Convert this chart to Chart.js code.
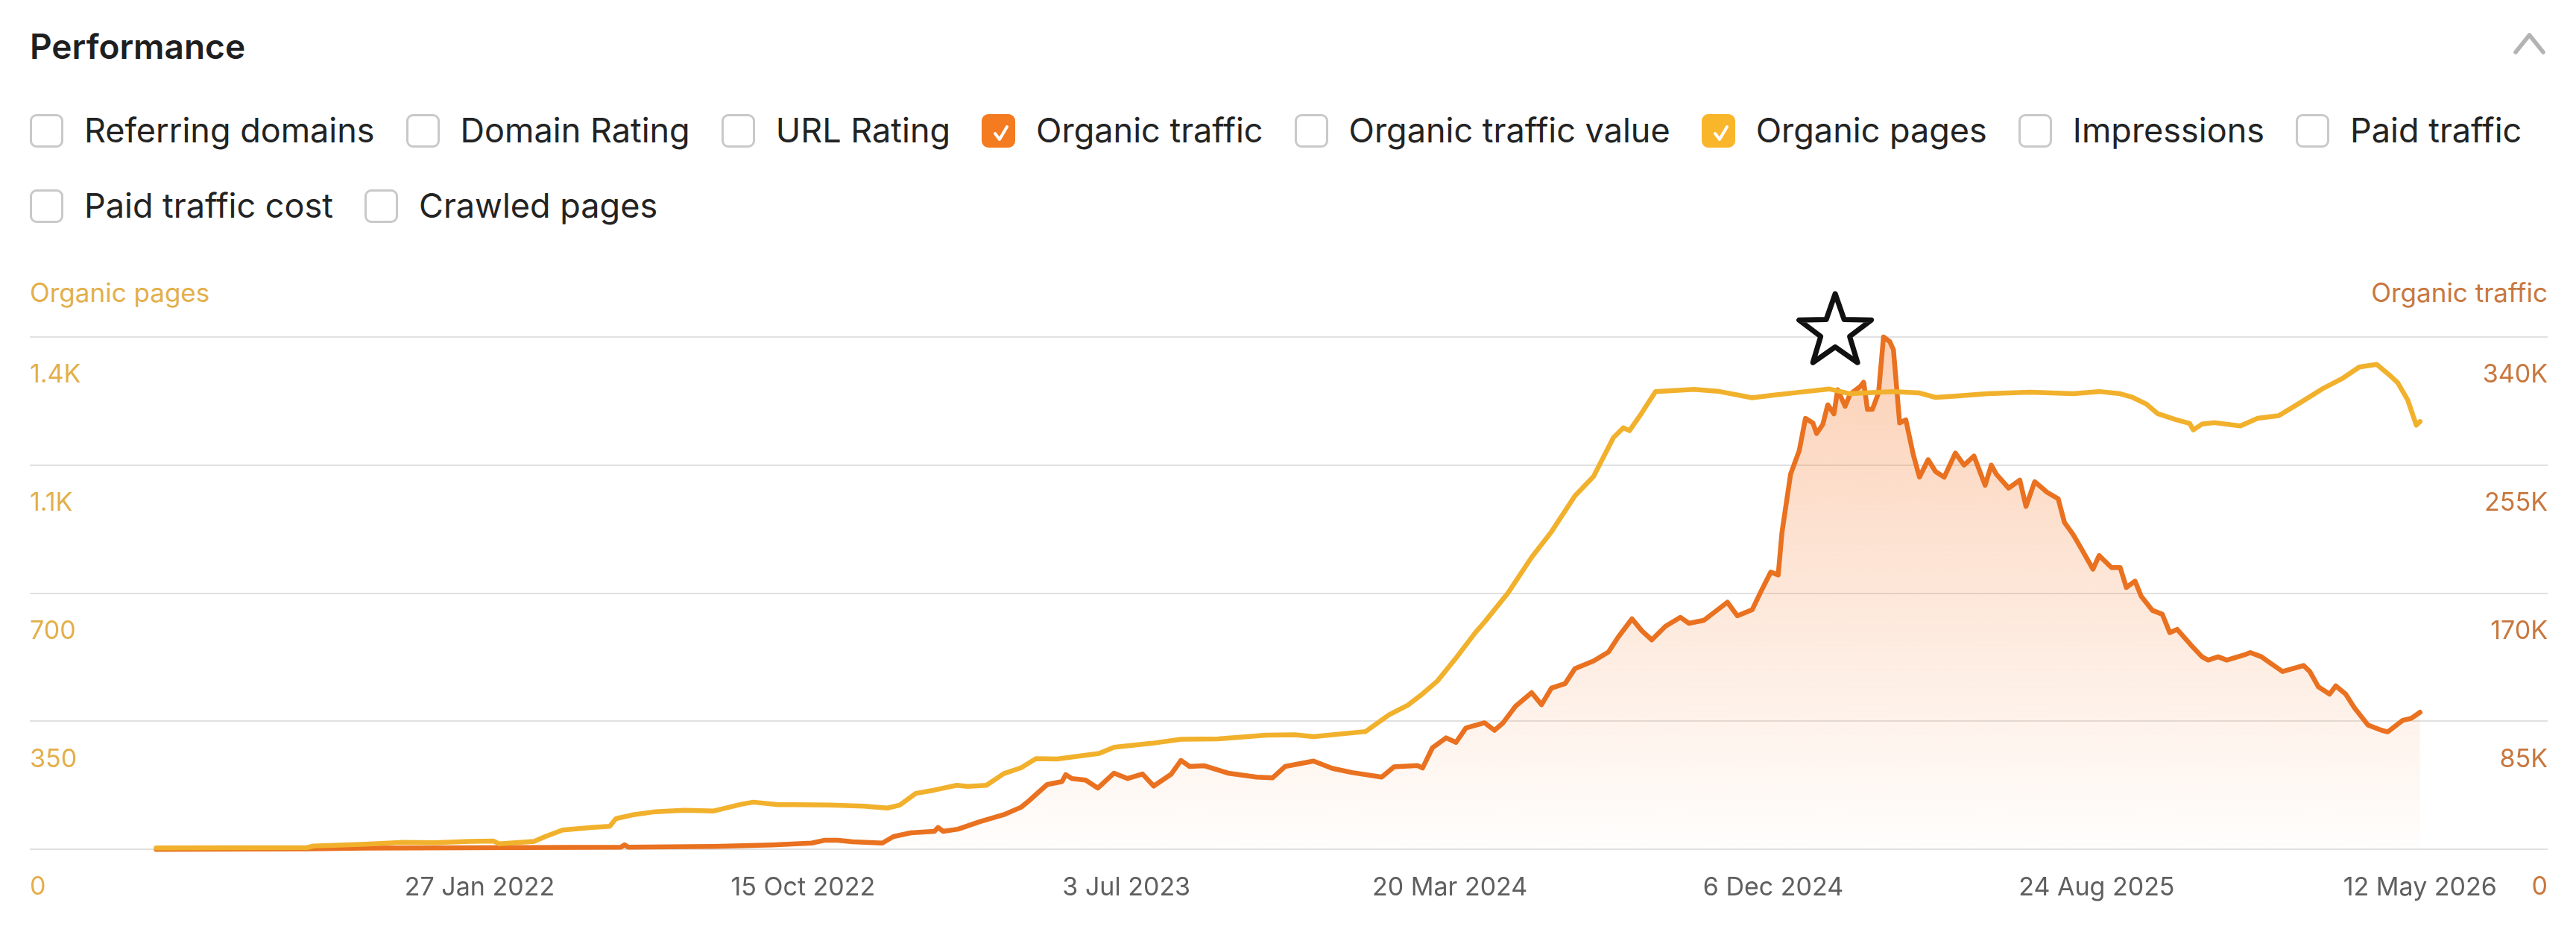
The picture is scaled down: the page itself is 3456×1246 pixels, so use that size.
<!DOCTYPE html>
<html>
<head>
<meta charset="utf-8">
<script src="https://cdn.jsdelivr.net/npm/chart.js@4/dist/chart.umd.min.js"></script>
<style>
  html, body { margin: 0; padding: 0; background: #ffffff; }
  body { width: 3456px; height: 1246px; position: relative; overflow: hidden; font-family: Inter, "Noto Sans", sans-serif; }
  .title { position: absolute; left: 40px; top: 37px; font-size: 46px; line-height: 50px; font-weight: 600; color: #1f1f1f; }
  .chev { position: absolute; left: 3370px; top: 42px; }
  .row { position: absolute; left: 40px; height: 48px; display: flex; align-items: center; }
  .item { display: flex; align-items: center; margin-right: 42px; }
  .box { width: 39px; height: 39px; border: 3px solid #c9c9c9; border-radius: 9px; margin-right: 28px; box-sizing: content-box; position: relative; }
  .box.on { border-color: transparent; }
  .box svg { position: absolute; left: 0; top: 0; }
  .lbl { font-size: 45px; color: #232323; white-space: nowrap; line-height: 48px; }
  .axt { position: absolute; top: 372px; font-size: 35px; line-height: 40px; white-space: nowrap; }
  #wrap { position: absolute; left: 0; top: 340px; width: 3456px; height: 906px; }
</style>
</head>
<body>
<div class="title">Performance</div>
<svg class="chev" width="48" height="34" viewBox="0 0 48 34"><polyline points="5,28 23.5,5 42,28" fill="none" stroke="#b3b3b3" stroke-width="5.5" stroke-linecap="round" stroke-linejoin="round"/></svg>
<div id="row1" class="row" style="top:151px"></div>
<div id="row2" class="row" style="top:252px"></div>
<div class="axt" style="left:40px;color:#e3af4a">Organic pages</div>
<div class="axt" style="right:38px;color:#c8773e">Organic traffic</div>
<div id="wrap"><canvas id="c" width="3456" height="906"></canvas></div>
<script>
// ---------- data ----------
const metricsRow1 = ['Referring domains', 'Domain Rating', 'URL Rating', 'Organic traffic', 'Organic traffic value', 'Organic pages', 'Impressions', 'Paid traffic'];
const metricsRow2 = ['Paid traffic cost', 'Crawled pages'];
const checkedMetrics = { 'Organic traffic': '#f47b20', 'Organic pages': '#f9b62a' };

const xTickDates  = ['2022-01-27', '2022-10-15', '2023-07-03', '2024-03-20', '2024-12-06', '2025-08-24', '2026-05-12'];
const xTickLabels = ['27 Jan 2022', '15 Oct 2022', '3 Jul 2023', '20 Mar 2024', '6 Dec 2024', '24 Aug 2025', '12 May 2026'];
const xRange = ['2021-01-29', '2026-08-23'];

const pagesTicks = [0, 350, 700, 1050, 1400];
const pagesTickLabels = ['0', '350', '700', '1.1K', '1.4K'];
const trafficTicks = [0, 85000, 170000, 255000, 340000];
const trafficTickLabels = ['0', '85K', '170K', '255K', '340K'];

const starDate = '2025-01-25';

const pagesDates = [
  '2021-05-11','2021-09-10','2021-09-15','2021-10-27','2021-11-24','2021-12-22','2022-01-19','2022-02-07','2022-02-12','2022-03-12',
  '2022-03-21','2022-04-04','2022-04-28','2022-05-12','2022-05-17','2022-05-30','2022-06-18','2022-07-11','2022-08-04','2022-08-27',
  '2022-09-05','2022-09-25','2022-10-08','2022-11-06','2022-12-03','2022-12-22','2023-01-01','2023-01-14','2023-01-29','2023-02-16',
  '2023-02-25','2023-03-12','2023-03-26','2023-04-09','2023-04-21','2023-05-08','2023-06-11','2023-06-23','2023-07-24','2023-08-16',
  '2023-09-15','2023-10-24','2023-11-16','2023-12-01','2024-01-09','2024-01-12','2024-01-31','2024-02-15','2024-02-27','2024-03-10',
  '2024-03-25','2024-04-10','2024-04-17','2024-05-06','2024-05-25','2024-06-10','2024-06-29','2024-07-14','2024-07-30','2024-08-07',
  '2024-08-12','2024-08-22','2024-09-02','2024-10-03','2024-10-22','2024-11-19','2024-12-06','2024-12-27','2025-01-20','2025-02-06',
  '2025-02-24','2025-03-13','2025-04-03','2025-04-16','2025-04-30','2025-05-28','2025-07-01','2025-08-05','2025-08-26','2025-09-12',
  '2025-09-22','2025-10-03','2025-10-12','2025-10-27','2025-11-07','2025-11-10','2025-11-17','2025-11-27','2025-12-18','2026-01-01',
  '2026-01-18','2026-02-04','2026-02-22','2026-03-10','2026-03-24','2026-04-07','2026-04-18','2026-04-24','2026-05-02','2026-05-09',
  '2026-05-12'
];
const pagesValues = [
  4, 5, 9, 14, 19, 18, 22, 23, 15, 22,
  35, 53, 60, 63, 84, 94, 103, 107, 105, 124,
  129, 122, 122, 121, 118, 113, 121, 153, 162, 175,
  172, 175, 207, 223, 248, 247, 262, 279, 290, 301,
  302, 312, 313, 308, 321, 322, 368, 394, 425, 460,
  523, 594, 621, 701, 798, 868, 966, 1019, 1125, 1152,
  1144, 1193, 1251, 1257, 1252, 1234, 1241, 1249, 1258, 1245,
  1248, 1251, 1247, 1235, 1238, 1245, 1249, 1245, 1251, 1245,
  1235, 1217, 1191, 1174, 1164, 1146, 1162, 1166, 1157, 1178,
  1185, 1220, 1258, 1286, 1318, 1325, 1294, 1275, 1228, 1159,
  1169
];

const trafficDates = [
  '2021-05-11','2021-09-10','2021-10-27','2022-05-21','2022-05-24','2022-05-27','2022-08-04','2022-09-20','2022-10-22','2022-11-01',
  '2022-11-12','2022-11-24','2022-12-18','2022-12-27','2023-01-10','2023-01-29','2023-02-01','2023-02-05','2023-02-17','2023-03-07',
  '2023-03-26','2023-04-09','2023-04-15','2023-04-30','2023-05-12','2023-05-15','2023-05-20','2023-05-31','2023-06-10','2023-06-23',
  '2023-07-04','2023-07-16','2023-07-25','2023-08-08','2023-08-16','2023-08-23','2023-09-04','2023-09-23','2023-10-16','2023-10-29',
  '2023-11-08','2023-12-01','2023-12-16','2024-01-01','2024-01-25','2024-02-04','2024-02-23','2024-02-27','2024-03-06','2024-03-17',
  '2024-03-25','2024-04-02','2024-04-17','2024-04-25','2024-05-02','2024-05-12','2024-05-25','2024-06-02','2024-06-10','2024-06-21',
  '2024-06-29','2024-07-14','2024-07-26','2024-08-03','2024-08-14','2024-08-22','2024-08-30','2024-09-10','2024-09-22','2024-09-29',
  '2024-10-11','2024-10-30','2024-11-07','2024-11-19','2024-11-26','2024-12-04','2024-12-10','2024-12-13','2024-12-20','2024-12-27',
  '2025-01-01','2025-01-07','2025-01-10','2025-01-15','2025-01-19','2025-01-24','2025-01-27','2025-02-02','2025-02-06','2025-02-14',
  '2025-02-17','2025-02-20','2025-02-24','2025-03-01','2025-03-05','2025-03-10','2025-03-13','2025-03-18','2025-03-23','2025-03-29',
  '2025-04-03','2025-04-10','2025-04-16','2025-04-23','2025-05-02','2025-05-09','2025-05-17','2025-05-26','2025-05-31','2025-06-04',
  '2025-06-14','2025-06-23','2025-06-28','2025-07-05','2025-07-15','2025-07-24','2025-07-29','2025-08-05','2025-08-12','2025-08-21',
  '2025-08-26','2025-09-05','2025-09-12','2025-09-17','2025-09-24','2025-09-29','2025-10-08','2025-10-16','2025-10-22','2025-10-28',
  '2025-11-08','2025-11-17','2025-11-22','2025-11-30','2025-12-07','2025-12-21','2025-12-26','2026-01-04','2026-01-11','2026-01-21',
  '2026-02-07','2026-02-12','2026-02-19','2026-02-28','2026-03-05','2026-03-13','2026-03-20','2026-03-31','2026-04-11','2026-04-16',
  '2026-04-28','2026-05-05','2026-05-12'
];
const trafficValues = [
  0, 300, 800, 1500, 3000, 1500, 2000, 3000, 4200, 6000,
  6000, 5000, 4200, 8500, 11000, 12000, 14500, 12000, 13400, 18500,
  23000, 28000, 32000, 43000, 45000, 49600, 47000, 46000, 40700, 50600,
  47000, 50000, 42000, 49800, 59000, 55000, 55500, 50600, 48000, 47500,
  55000, 58600, 53800, 51000, 48000, 54800, 55600, 54000, 67500, 74000,
  71000, 80600, 84000, 79000, 84000, 95000, 104000, 96000, 107000, 110000,
  120000, 125000, 131000, 141000, 153000, 145000, 139000, 148000, 154000, 150000,
  152000, 164000, 155000, 159000, 171000, 184000, 182000, 210000, 249000, 264600,
  286000, 283000, 276000, 282000, 295000, 289000, 305000, 294000, 302000, 307000,
  310000, 292000, 292000, 303000, 340000, 337000, 331600, 283000, 285000, 262000,
  247000, 258600, 250700, 247000, 263000, 255000, 261000, 241600, 255000, 249000,
  239700, 245000, 227600, 244000, 237000, 232600, 217000, 209000, 199000, 185900,
  195000, 187000, 187000, 173800, 178000, 168000, 158600, 156000, 143800, 146000,
  135700, 127800, 125600, 127800, 125600, 129000, 130600, 127800, 123700, 118000,
  122000, 118000, 107800, 103000, 108500, 103000, 94000, 82500, 79000, 78000,
  85600, 87000, 91000
];

// ---------- checkbox legend (HTML) ----------
function buildRow(id, names) {
  const row = document.getElementById(id);
  names.forEach(n => {
    const item = document.createElement('div'); item.className = 'item';
    const box = document.createElement('div'); box.className = 'box';
    const col = checkedMetrics[n];
    if (col) {
      box.classList.add('on');
      box.style.background = col;
      box.innerHTML = '<svg width="45" height="45" viewBox="-3 -3 45 45"><polyline points="12,20 18,28 28,11" fill="none" stroke="#fff" stroke-width="4" stroke-linecap="round" stroke-linejoin="round"/></svg>';
    }
    const lbl = document.createElement('span'); lbl.className = 'lbl'; lbl.textContent = n;
    item.appendChild(box); item.appendChild(lbl); row.appendChild(item);
  });
}
buildRow('row1', metricsRow1);
buildRow('row2', metricsRow2);

// ---------- chart ----------
const toMs = d => Date.parse(d + 'T00:00:00Z');
const pagesData = pagesDates.map((d, i) => ({ x: toMs(d), y: pagesValues[i] }));
const trafficData = trafficDates.map((d, i) => ({ x: toMs(d), y: trafficValues[i] }));

const fillGradient = (ctx) => {
  const chart = ctx.chart; const a = chart.chartArea;
  if (!a) return 'rgba(245,125,50,0.15)';
  const g = chart.ctx.createLinearGradient(0, a.top, 0, a.bottom);
  g.addColorStop(0, 'rgba(245,125,50,0.36)');
  g.addColorStop(0.6, 'rgba(245,125,50,0.15)');
  g.addColorStop(1, 'rgba(245,125,50,0.01)');
  return g;
};

const starPlugin = {
  id: 'star',
  afterDatasetsDraw(chart) {
    const c = chart.ctx; const xs = chart.scales.x;
    const cx = xs.getPixelForValue(toMs(starDate));
    const cy = chart.chartArea.top - 7;
    const R = 51, r = R * 0.4;
    c.save();
    c.beginPath();
    for (let k = 0; k < 10; k++) {
      const ang = -Math.PI / 2 + k * Math.PI / 5;
      const rad = k % 2 === 0 ? R : r;
      const px = cx + rad * Math.cos(ang), py = cy + rad * Math.sin(ang);
      if (k === 0) c.moveTo(px, py); else c.lineTo(px, py);
    }
    c.closePath();
    c.fillStyle = '#ffffff'; c.fill();
    c.lineWidth = 7; c.lineJoin = 'round'; c.strokeStyle = '#111111'; c.stroke();
    c.restore();
  }
};

const axisFont = { family: 'Inter', size: 34 };

new Chart(document.getElementById('c'), {
  type: 'line',
  data: {
    datasets: [
      { label: 'Organic pages', data: pagesData, yAxisID: 'yPages', borderColor: '#f1b12c', borderWidth: 6.5,
        pointRadius: 0, tension: 0, fill: false, borderJoinStyle: 'round', borderCapStyle: 'round', clip: 8 },
      { label: 'Organic traffic', data: trafficData, yAxisID: 'yTraffic', borderColor: '#e9711f', borderWidth: 6.5,
        pointRadius: 0, tension: 0, fill: 'origin', backgroundColor: fillGradient, borderJoinStyle: 'round', borderCapStyle: 'round', clip: 8 }
    ]
  },
  options: {
    responsive: false, animation: false, devicePixelRatio: 1,
    layout: { padding: { left: 40, right: 38, top: 112, bottom: 4 } },
    plugins: { legend: { display: false }, tooltip: { enabled: false } },
    scales: {
      x: {
        type: 'linear', min: toMs(xRange[0]), max: toMs(xRange[1]),
        grid: { display: false, drawTicks: false }, border: { display: false },
        afterBuildTicks: s => { s.ticks = xTickDates.map(d => ({ value: toMs(d) })); },
        ticks: { autoSkip: false, maxRotation: 0, minRotation: 0, padding: 31, color: '#5f5f5f', font: axisFont,
                 callback: (v, i) => xTickLabels[i] }
      },
      yPages: {
        position: 'left', min: 0, max: 1400,
        afterBuildTicks: s => { s.ticks = pagesTicks.map(v => ({ value: v })); },
        grid: { color: '#e1e1e1', lineWidth: 2, drawTicks: false }, border: { display: false },
        ticks: { mirror: true, padding: 0, labelOffset: 51, color: '#e3af4a', font: axisFont,
                 callback: (v, i) => pagesTickLabels[i] }
      },
      yTraffic: {
        position: 'right', min: 0, max: 340000,
        afterBuildTicks: s => { s.ticks = trafficTicks.map(v => ({ value: v })); },
        grid: { display: false, drawTicks: false }, border: { display: false },
        ticks: { mirror: true, padding: 0, labelOffset: 51, color: '#c8773e', font: axisFont,
                 callback: (v, i) => trafficTickLabels[i] }
      }
    }
  },
  plugins: [starPlugin]
});
</script>
</body>
</html>
